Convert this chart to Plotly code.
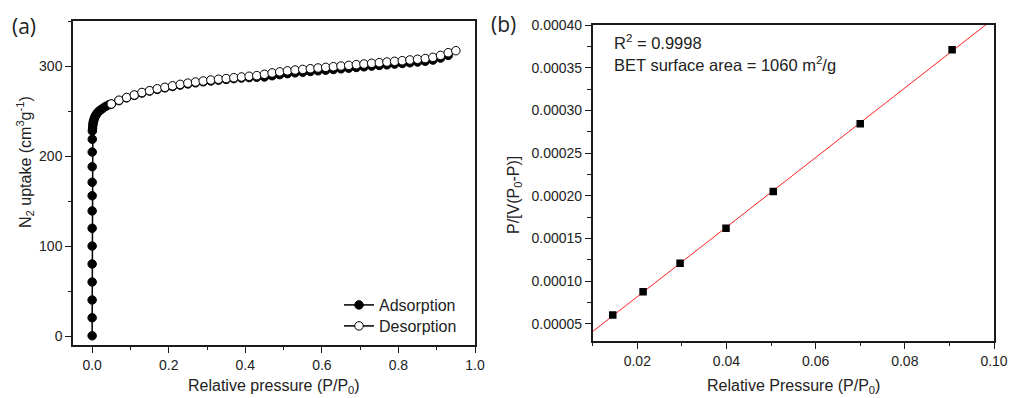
import numpy as np
import plotly.graph_objects as go

# ---------------- data: panel (a) N2 isotherm ----------------
ads_p = [1e-6, 2e-6, 4e-6, 7e-6, 1e-5, 1.5e-5, 2.5e-5, 4e-5, 6e-5, 9e-5, 1.4e-4, 2.2e-4, 3.5e-4, 5.5e-4,
         0.0012, 0.0018, 0.0025, 0.0035, 0.0048, 0.0065, 0.0085, 0.011, 0.014, 0.018, 0.023, 0.029, 0.036, 0.044,
         0.05, 0.07, 0.09, 0.11, 0.13, 0.15, 0.17, 0.19, 0.21, 0.23, 0.25, 0.27, 0.29, 0.31, 0.33, 0.35, 0.37,
         0.39, 0.41, 0.43, 0.45, 0.47, 0.49, 0.51, 0.53, 0.55, 0.57, 0.59, 0.61, 0.63, 0.65, 0.67, 0.69, 0.71,
         0.73, 0.75, 0.77, 0.79, 0.81, 0.83, 0.85, 0.87, 0.89, 0.91, 0.93]
ads_v = [0.3, 20.3, 40.0, 60.0, 80.0, 100.0, 119.7, 139.0, 155.9, 170.8, 188.1, 204.4, 218.6, 227.8,
         231.0, 234.0, 236.5, 238.5, 240.5, 242.5, 244.5, 246.3, 248.0, 249.8, 251.5, 253.3, 255.2, 257.0,
         257.6, 261.5, 264.6, 267.3, 270.0, 272.1, 274.0, 275.7, 277.3, 278.8, 280.1, 281.3, 282.4, 283.4,
         284.3, 285.1, 286.0, 286.6, 287.1, 287.5, 287.8, 289.2, 290.4, 291.5, 292.4, 293.1, 293.9, 294.7,
         295.4, 296.1, 296.9, 297.6, 298.4, 299.1, 299.9, 300.6, 301.3, 302.1, 302.8, 303.6, 304.4, 305.3,
         306.6, 308.8, 311.8]

des_p = [0.05, 0.07, 0.09, 0.11, 0.13, 0.15, 0.17, 0.19, 0.21, 0.23, 0.25, 0.27, 0.29, 0.31, 0.33, 0.35,
         0.37, 0.39, 0.41, 0.43, 0.45, 0.47, 0.49, 0.51, 0.53, 0.55, 0.57, 0.59, 0.61, 0.63, 0.65, 0.67,
         0.69, 0.71, 0.73, 0.75, 0.77, 0.79, 0.81, 0.83, 0.85, 0.87, 0.89, 0.91, 0.93, 0.95]
des_v = [257.8, 262.0, 265.0, 267.8, 270.6, 272.6, 274.7, 276.3, 278.0, 279.6, 281.0, 282.2, 283.3, 284.4,
         285.3, 286.0, 287.0, 287.8, 288.6, 289.3, 290.8, 292.3, 293.5, 294.6, 295.5, 296.2, 297.0, 297.8,
         298.5, 299.2, 300.0, 300.7, 301.5, 302.2, 303.0, 303.7, 304.4, 305.2, 305.9, 306.7, 307.5, 308.3,
         309.6, 311.8, 314.8, 317.0]

# ---------------- data: panel (b) BET plot ----------------
bet_p = [0.0145, 0.0213, 0.0296, 0.0399, 0.0505, 0.0700, 0.0906]
bet_y = [0.0000605, 0.0000877, 0.000121, 0.000162, 0.000205, 0.0002845, 0.000371]
fit_x_range = [0.0, 0.11]

# ---------------- figure ----------------
W, H = 1009, 398
FONT = "Liberation Sans"
AX = "#1a1a1a"
TXT = "#222222"

slope, intercept = np.polyfit(bet_p, bet_y, 1)
fit_x = np.array(fit_x_range)
fit_y = slope * fit_x + intercept

fig = go.Figure()
fig.add_trace(go.Scatter(x=ads_p, y=ads_v, mode="lines+markers", name="Adsorption", legend="legend",
                         line=dict(color="black", width=1.5),
                         marker=dict(symbol="circle", size=8.5, color="black", line=dict(color="black", width=1)),
                         xaxis="x", yaxis="y"))
fig.add_trace(go.Scatter(x=des_p, y=des_v, mode="lines+markers", name="Desorption", legend="legend2",
                         line=dict(color="black", width=1.5),
                         marker=dict(symbol="circle", size=8.5, color="white", line=dict(color="black", width=1)),
                         xaxis="x", yaxis="y"))
fig.add_trace(go.Scatter(x=fit_x, y=fit_y, mode="lines", showlegend=False,
                         line=dict(color="#ff2020", width=1), xaxis="x2", yaxis="y2"))
fig.add_trace(go.Scatter(x=bet_p, y=bet_y, mode="markers", showlegend=False,
                         marker=dict(symbol="square", size=7.5, color="black"),
                         xaxis="x2", yaxis="y2"))

def axis_style(**kw):
    d = dict(showline=True, linecolor=AX, linewidth=1.5, mirror=True, ticks="outside",
             ticklen=6, tickwidth=1.3, tickcolor=AX, showgrid=False, zeroline=False, automargin=False,
             tickfont=dict(family=FONT, size=14, color=TXT))
    d.update(kw)
    return d

def legend_style(ycenter):
    return dict(x=339 / W, y=(H - ycenter) / H, xanchor="left", yanchor="middle", bgcolor="rgba(0,0,0,0)",
                font=dict(family=FONT, size=16, color=TXT), tracegroupgap=0, itemwidth=30)

fig.update_layout(
    template="none",
    width=W, height=H, autosize=False,
    margin=dict(l=0, r=0, t=0, b=0, pad=0),
    font=dict(family=FONT, color=TXT),
    paper_bgcolor="white", plot_bgcolor="white",
    xaxis=axis_style(domain=[73 / W, 475 / W], range=[-0.05, 1.0], tick0=0, dtick=0.2, tickformat=".1f",
                     minor=dict(ticks="outside", ticklen=3.5, dtick=0.1, tick0=0, tickcolor=AX, tickwidth=1.2),
                     anchor="y"),
    yaxis=axis_style(domain=[(H - 345) / H, (H - 21) / H], range=[-10, 350], tick0=0, dtick=100,
                     minor=dict(ticks="outside", ticklen=3.5, dtick=50, tick0=0, tickcolor=AX, tickwidth=1.2),
                     anchor="x"),
    xaxis2=axis_style(domain=[592.7 / W, 994 / W], range=[0.01, 0.10], tick0=0, dtick=0.02, tickformat=".2f",
                      minor=dict(ticks="outside", ticklen=3.5, dtick=0.01, tick0=0, tickcolor=AX, tickwidth=1.2),
                      anchor="y2"),
    yaxis2=axis_style(domain=[(H - 341) / H, (H - 25) / H], range=[0.00003, 0.00040], tick0=0, dtick=0.00005,
                      tickformat=".5f",
                      minor=dict(ticks="outside", ticklen=3.5, dtick=0.000025, tick0=0, tickcolor=AX, tickwidth=1.2),
                      anchor="x2"),
    legend=legend_style(305),
    legend2=legend_style(326),
    showlegend=True,
)

ann = [
    dict(text="(a)", x=24 / W, y=(H - 26) / H, font=dict(family="Open Sans", size=21, color=TXT)),
    dict(text="(b)", x=503 / W, y=(H - 24) / H, font=dict(family="Open Sans", size=21, color=TXT)),
    dict(text="N<sub>2</sub> uptake (cm<sup>3</sup>g<sup>-1</sup>)", x=25 / W, y=(H - 162) / H, textangle=-90,
         font=dict(family=FONT, size=16, color=TXT)),
    dict(text="P/[V(P<sub>0</sub>-P)]", x=515 / W, y=(H - 195) / H, textangle=-90,
         font=dict(family=FONT, size=16, color=TXT)),
    dict(text="Relative pressure (P/P<sub>0</sub>)", x=274 / W, y=(H - 386) / H,
         font=dict(family=FONT, size=16, color=TXT)),
    dict(text="Relative Pressure (P/P<sub>0</sub>)", x=793 / W, y=(H - 386) / H,
         font=dict(family=FONT, size=16, color=TXT)),
    dict(text="R<sup>2</sup> = 0.9998", x=612 / W, y=(H - 42) / H, xanchor="left",
         font=dict(family=FONT, size=16.5, color=TXT)),
    dict(text="BET surface area = 1060 m<sup>2</sup>/g", x=612 / W, y=(H - 64) / H, xanchor="left",
         font=dict(family=FONT, size=16.5, color=TXT)),
]
for a in ann:
    a.setdefault("xanchor", "center")
    a.update(xref="paper", yref="paper", yanchor="middle", showarrow=False)
fig.update_layout(annotations=ann)

fig.write_html("out.html")
